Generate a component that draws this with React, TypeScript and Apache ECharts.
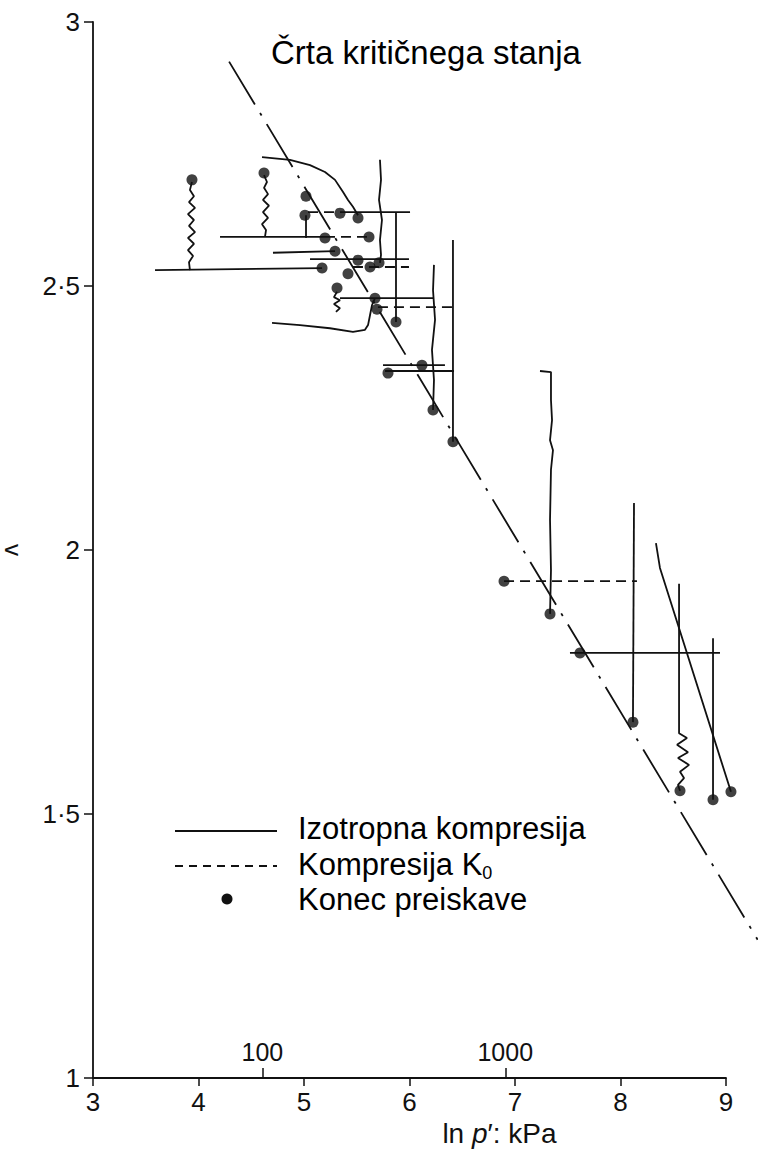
import React, { useEffect, useRef } from "react";
import * as echarts from "echarts";

const FONT = "'Liberation Sans', Arial, Helvetica, sans-serif";

// axis ticks
const xAxisTicks = [3, 4, 5, 6, 7, 8, 9];
const yAxisTicks = [1, 1.5, 2, 2.5, 3];
const pressureTicksKpa = [100, 1000];

// critical state line (ln p', v) — runs past the right end of the axis
const criticalStateLine = [
  [4.29, 2.925],
  [9.3, 1.262],
];

// isotropic compression / shearing paths (solid)
const isotropicPaths: number[][][] = [
  [[3.588, 2.530], [5.171, 2.534]],
  [[3.919, 2.530], [3.910, 2.545], [3.948, 2.557], [3.900, 2.568], [3.957, 2.580], [3.900, 2.591], [3.967, 2.602], [3.910, 2.614], [3.957, 2.625], [3.900, 2.636], [3.967, 2.648], [3.910, 2.659], [3.957, 2.670], [3.919, 2.682], [3.938, 2.697]],
  [[4.630, 2.593], [4.640, 2.606], [4.602, 2.617], [4.659, 2.629], [4.611, 2.640], [4.668, 2.652], [4.611, 2.663], [4.659, 2.674], [4.621, 2.686], [4.649, 2.697], [4.621, 2.710]],
  [[4.204, 2.593], [5.199, 2.593]],
  [[4.602, 2.744], [4.867, 2.739], [5.057, 2.729], [5.199, 2.716], [5.294, 2.701], [5.370, 2.678], [5.417, 2.663], [5.464, 2.650], [5.512, 2.634]],
  [[5.019, 2.634], [5.019, 2.591]],
  [[5.341, 2.640], [6.005, 2.640]],
  [[5.720, 2.739], [5.730, 2.701], [5.711, 2.663], [5.739, 2.625], [5.720, 2.587], [5.730, 2.559], [5.720, 2.544]],
  [[5.872, 2.640], [5.872, 2.432]],
  [[4.706, 2.563], [5.294, 2.566]],
  [[5.057, 2.551], [5.995, 2.551]],
  [[4.697, 2.430], [4.962, 2.426], [5.246, 2.420], [5.464, 2.413], [5.578, 2.417], [5.607, 2.426], [5.626, 2.445], [5.645, 2.464], [5.673, 2.477]],
  [[5.341, 2.477], [6.223, 2.477]],
  [[5.313, 2.489], [5.284, 2.479], [5.341, 2.473], [5.284, 2.466], [5.341, 2.458], [5.303, 2.451]],
  [[6.232, 2.540], [6.223, 2.492], [6.242, 2.436], [6.213, 2.379], [6.232, 2.322], [6.223, 2.265]],
  [[6.412, 2.587], [6.412, 2.205]],
  [[5.749, 2.350], [6.336, 2.350]],
  [[5.768, 2.339], [6.422, 2.339]],
  [[7.237, 2.339], [7.341, 2.337], [7.341, 2.284], [7.351, 2.246], [7.332, 2.208], [7.360, 2.189], [7.341, 2.152], [7.332, 2.057], [7.341, 1.962], [7.332, 1.879]],
  [[8.128, 2.089], [8.118, 1.674]],
  [[7.521, 1.805], [8.943, 1.805]],
  [[8.555, 1.936], [8.555, 1.653], [8.630, 1.644], [8.536, 1.631], [8.640, 1.617], [8.545, 1.606], [8.650, 1.593], [8.564, 1.580], [8.602, 1.568], [8.545, 1.555], [8.564, 1.544]],
  [[8.336, 2.013], [8.374, 1.966], [9.047, 1.542]],
  [[8.877, 1.833], [8.877, 1.527]],
];

// K0 compression paths (dashed)
const k0Paths: number[][][] = [
  [[5.199, 2.593], [5.616, 2.593]],
  [[5.038, 2.640], [5.341, 2.640]],
  [[5.464, 2.536], [5.995, 2.536]],
  [[5.701, 2.460], [6.412, 2.460]],
  [[6.896, 1.941], [8.156, 1.941]],
];

// end of test points
const testEnds: number[][] = [
  [3.938, 2.701], [4.621, 2.714], [5.019, 2.670], [5.009, 2.634], [5.341, 2.638],
  [5.512, 2.629], [5.199, 2.591], [5.616, 2.593], [5.294, 2.566], [5.512, 2.549],
  [5.171, 2.534], [5.711, 2.544], [5.626, 2.536], [5.417, 2.523], [5.313, 2.496],
  [5.673, 2.477], [5.692, 2.456], [5.872, 2.432], [6.118, 2.350], [5.796, 2.335],
  [6.223, 2.265], [6.412, 2.205], [6.896, 1.941], [7.332, 1.879], [7.616, 1.805],
  [8.118, 1.674], [8.564, 1.544], [8.877, 1.527], [9.047, 1.542],
];

const INK = "#111111";

const W = 758;
const H = 1149;
const G_LEFT = 93;
const G_RIGHT = 32;
const G_TOP = 22;
const G_BOTTOM = 71;

export default function App() {
  const ref = useRef<HTMLDivElement>(null);

  useEffect(() => {
    if (!ref.current) return;
    const chart = echarts.init(ref.current, null, { renderer: "svg" });

    const xMin = xAxisTicks[0];
    const xMax = xAxisTicks[xAxisTicks.length - 1];
    const plotW = W - G_LEFT - G_RIGHT;
    // wider overlay grid (same scale) so marks can run past the end of the axis
    const xMaxWide = xMin + ((xMax - xMin) * (W - G_LEFT)) / plotW;

    const onWide = { xAxisIndex: 2, yAxisIndex: 1 };

    const series: any[] = [];
    isotropicPaths.forEach((p, i) => {
      series.push({
        type: "line",
        name: "iso" + i,
        data: p,
        symbol: "none",
        silent: true,
        ...onWide,
        lineStyle: { color: INK, width: 1.8 },
      });
    });
    k0Paths.forEach((p, i) => {
      series.push({
        type: "line",
        name: "k0" + i,
        data: p,
        symbol: "none",
        silent: true,
        ...onWide,
        lineStyle: { color: INK, width: 1.8, type: [10, 6] },
      });
    });
    series.push({
      type: "line",
      name: "csl",
      data: criticalStateLine,
      symbol: "none",
      silent: true,
      ...onWide,
      lineStyle: { color: INK, width: 1.8, type: [50, 10, 3, 10] },
    });
    series.push({
      type: "scatter",
      name: "ends",
      data: testEnds,
      symbolSize: 11,
      silent: true,
      ...onWide,
      itemStyle: { color: INK },
      z: 5,
    });

    const option: any = {
      animation: false,
      backgroundColor: "#ffffff",
      textStyle: { fontFamily: FONT },
      grid: [
        {
          left: G_LEFT,
          right: G_RIGHT,
          top: G_TOP,
          bottom: G_BOTTOM,
          containLabel: false,
          outerBoundsMode: "none",
        },
        {
          left: G_LEFT,
          right: 0,
          top: G_TOP,
          bottom: G_BOTTOM,
          containLabel: false,
          outerBoundsMode: "none",
        },
      ],
      xAxis: [
        {
          type: "value",
          gridIndex: 0,
          min: xMin,
          max: xMax,
          interval: 1,
          name: "ln {i|p}′: kPa",
          nameLocation: "middle",
          nameGap: 38,
          nameTextStyle: {
            fontFamily: FONT,
            fontSize: 28,
            color: INK,
            padding: [0, 0, 0, 180],
            rich: { i: { fontStyle: "italic", fontFamily: FONT, fontSize: 28, color: INK } },
          },
          axisLine: { show: true, lineStyle: { color: INK, width: 1.8 } },
          axisTick: { show: true, inside: false, length: 8, lineStyle: { color: INK, width: 1.5 } },
          axisLabel: {
            customValues: xAxisTicks,
            color: INK,
            fontSize: 26,
            fontFamily: FONT,
            margin: 11,
          },
          splitLine: { show: false },
        },
        {
          type: "value",
          gridIndex: 0,
          min: xMin,
          max: xMax,
          position: "bottom",
          axisLine: { show: false },
          axisTick: {
            show: true,
            inside: true,
            length: 10,
            customValues: pressureTicksKpa.map((v) => Math.log(v)),
            lineStyle: { color: INK, width: 1.5 },
          },
          axisLabel: {
            inside: true,
            customValues: pressureTicksKpa.map((v) => Math.log(v)),
            formatter: (v: number) => String(Math.round(Math.exp(v))),
            color: INK,
            fontSize: 25,
            fontFamily: FONT,
            margin: 14,
          },
          splitLine: { show: false },
        },
        {
          type: "value",
          gridIndex: 1,
          min: xMin,
          max: xMaxWide,
          show: false,
        },
      ],
      yAxis: [
        {
          type: "value",
          gridIndex: 0,
          min: 1,
          max: 3,
          interval: 0.5,
          name: "v",
          nameLocation: "middle",
          nameGap: 68,
          nameRotate: -90,
          nameTextStyle: { fontFamily: FONT, fontSize: 24, color: INK },
          axisLine: { show: true, lineStyle: { color: INK, width: 1.8 } },
          axisTick: { show: true, inside: false, length: 9, lineStyle: { color: INK, width: 1.5 } },
          axisLabel: {
            customValues: yAxisTicks,
            formatter: (v: number) => String(v).replace(".", "·"),
            color: INK,
            fontSize: 26,
            fontFamily: FONT,
            margin: 13,
          },
          splitLine: { show: false },
        },
        {
          type: "value",
          gridIndex: 1,
          min: 1,
          max: 3,
          show: false,
        },
      ],
      graphic: [
        {
          type: "text",
          x: 271,
          y: 52,
          style: {
            text: "Črta kritičnega stanja",
            fontSize: 33,
            fontFamily: FONT,
            fill: "#000",
            verticalAlign: "middle",
          },
        },
        {
          type: "line",
          shape: { x1: 175, y1: 831, x2: 277, y2: 831 },
          style: { stroke: INK, lineWidth: 1.8 },
        },
        {
          type: "line",
          shape: { x1: 175, y1: 866, x2: 277, y2: 866 },
          style: { stroke: INK, lineWidth: 1.8, lineDash: [8, 6] },
        },
        {
          type: "circle",
          shape: { cx: 227, cy: 899, r: 5.5 },
          style: { fill: INK },
        },
        {
          type: "text",
          x: 298,
          y: 828,
          style: {
            text: "Izotropna kompresija",
            fontSize: 31,
            fontFamily: FONT,
            fill: "#000",
            verticalAlign: "middle",
          },
        },
        {
          type: "text",
          x: 298,
          y: 864,
          style: {
            text: "Kompresija K{s|0}",
            fontSize: 31,
            fontFamily: FONT,
            fill: "#000",
            verticalAlign: "middle",
            lineHeight: 36,
            rich: {
              s: { fontSize: 18, fontFamily: FONT, fill: "#000", verticalAlign: "bottom", lineHeight: 18 },
            },
          },
        },
        {
          type: "text",
          x: 298,
          y: 899,
          style: {
            text: "Konec preiskave",
            fontSize: 31,
            fontFamily: FONT,
            fill: "#000",
            verticalAlign: "middle",
          },
        },
      ],
      series,
    };

    chart.setOption(option);
    return () => chart.dispose();
  }, []);

  return (
    <div
      ref={ref}
      style={{ position: "absolute", left: 0, top: 0, width: W, height: H, background: "#fff" }}
    />
  );
}
